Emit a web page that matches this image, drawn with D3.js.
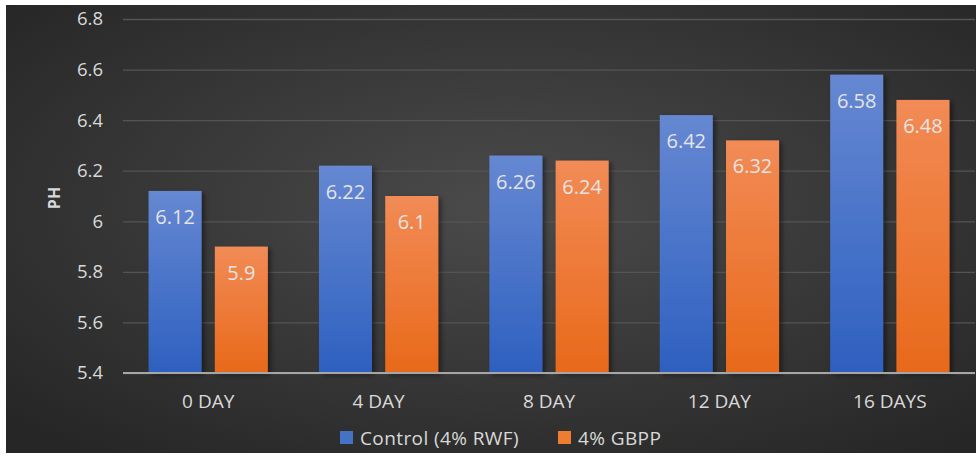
<!DOCTYPE html>
<html>
<head>
<meta charset="utf-8">
<script src="https://cdn.jsdelivr.net/npm/d3@7"></script>
<style>
  html, body { margin: 0; padding: 0; background: #ffffff; }
  svg { display: block; }
  text { font-family: "Open Sans", "Noto Sans", sans-serif; }
</style>
</head>
<body>
<svg id="chart" width="976" height="456"></svg>
<script>
const categories = ["0 DAY", "4 DAY", "8 DAY", "12 DAY", "16 DAYS"];
const seriesNames = ["Control (4% RWF)", "4% GBPP"];
const controlValues = [6.12, 6.22, 6.26, 6.42, 6.58];
const gbppValues = [5.9, 6.1, 6.24, 6.32, 6.48];
const yTicks = [5.4, 5.6, 5.8, 6.0, 6.2, 6.4, 6.6, 6.8];
const yTickLabels = ["5.4", "5.6", "5.8", "6", "6.2", "6.4", "6.6", "6.8"];

const svg = d3.select("#chart");
const W = 976, H = 456;
const plot = { left: 123, right: 975, top: 19, bottom: 373 };

const defs = svg.append("defs");
const bg = defs.append("radialGradient").attr("id", "bgGrad")
  .attr("cx", "52%").attr("cy", "45%").attr("r", "70%");
bg.append("stop").attr("offset", "0%").attr("stop-color", "#4b4b4b");
bg.append("stop").attr("offset", "100%").attr("stop-color", "#262626");

const gradBlue = defs.append("linearGradient").attr("id", "gBlue").attr("x1", 0).attr("y1", 0).attr("x2", 0).attr("y2", 1);
gradBlue.append("stop").attr("offset", "0%").attr("stop-color", "#6688d2");
gradBlue.append("stop").attr("offset", "100%").attr("stop-color", "#2e60c0");
const gradOrange = defs.append("linearGradient").attr("id", "gOrange").attr("x1", 0).attr("y1", 0).attr("x2", 0).attr("y2", 1);
gradOrange.append("stop").attr("offset", "0%").attr("stop-color", "#f28b56");
gradOrange.append("stop").attr("offset", "100%").attr("stop-color", "#e8691a");

const shadow = defs.append("filter").attr("id", "shadow").attr("x", "-20%").attr("y", "-10%").attr("width", "150%").attr("height", "130%");
shadow.append("feDropShadow").attr("dx", 3).attr("dy", 2).attr("stdDeviation", 2.5)
  .attr("flood-color", "#000").attr("flood-opacity", 0.45);

svg.append("rect").attr("x", 6).attr("y", 5).attr("width", W - 6).attr("height", 448)
  .attr("fill", "url(#bgGrad)");

const y = d3.scaleLinear().domain([5.4, 6.8]).range([plot.bottom, plot.top]);
const x0 = d3.scaleBand().domain(categories).range([plot.left, plot.right])
  .paddingInner(0.3).paddingOuter(0.15);
const x1 = d3.scaleBand().domain(seriesNames).range([0, x0.bandwidth()]).paddingInner(0.2);
const fills = ["url(#gBlue)", "url(#gOrange)"];
const legendColors = ["#4472c4", "#ed7d31"];

// gridlines
const yAxis = d3.axisLeft(y).tickValues(yTicks)
  .tickFormat((d, i) => yTickLabels[i])
  .tickSize(-(plot.right - plot.left)).tickPadding(20);
const gy = svg.append("g").attr("transform", `translate(${plot.left},0)`).call(yAxis);
gy.select(".domain").remove();
gy.selectAll(".tick line").attr("stroke", "#545454").attr("stroke-width", 1.3);
gy.selectAll(".tick text").attr("fill", "#d9d9d9").attr("font-size", 18.5);

// bars
const data = categories.map((c, i) => ({ cat: c, vals: [controlValues[i], gbppValues[i]] }));
const groups = svg.append("g").selectAll("g").data(data).join("g")
  .attr("transform", d => `translate(${x0(d.cat)},0)`);
groups.selectAll("rect").data(d => d.vals.map((v, j) => ({ v, s: seriesNames[j], j })))
  .join("rect")
  .attr("x", d => x1(d.s))
  .attr("y", d => y(d.v))
  .attr("width", x1.bandwidth())
  .attr("height", d => y(5.4) - y(d.v))
  .attr("fill", d => fills[d.j])
  .attr("filter", "url(#shadow)");
groups.selectAll("text.val").data(d => d.vals.map((v, j) => ({ v, s: seriesNames[j] })))
  .join("text").attr("class", "val")
  .attr("x", d => x1(d.s) + x1.bandwidth() / 2)
  .attr("y", d => y(d.v) + 33)
  .attr("text-anchor", "middle")
  .attr("fill", "#e4e4e4")
  .attr("font-size", 20)
  .text(d => d.v);

// x axis
const xAxis = d3.axisBottom(x0).tickSize(0).tickPadding(22);
const gx = svg.append("g").attr("transform", `translate(0,${plot.bottom})`).call(xAxis);
gx.select(".domain").attr("stroke", "#a6a6a6").attr("stroke-width", 2.2)
  .attr("d", `M${plot.left},0H${plot.right}`);
gx.selectAll(".tick text").attr("fill", "#d9d9d9").attr("font-size", 19);

// y title
svg.append("text").attr("transform", "translate(60,198) rotate(-90)")
  .attr("text-anchor", "middle").attr("fill", "#d9d9d9")
  .attr("font-size", 16).attr("font-weight", "bold").text("PH");

// legend
const legendX = [340, 558];
const lg = svg.append("g").selectAll("g").data(seriesNames).join("g")
  .attr("transform", (d, i) => `translate(${legendX[i]},431)`);
lg.append("rect").attr("width", 13).attr("height", 13).attr("fill", (d, i) => legendColors[i]);
lg.append("text").attr("x", 20).attr("y", 14).attr("fill", "#d9d9d9").attr("font-size", 19)
  .attr("letter-spacing", 0.4).text(d => d);
</script>
</body>
</html>
